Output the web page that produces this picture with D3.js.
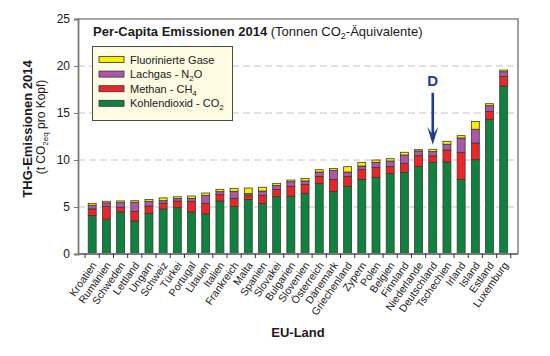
<!DOCTYPE html>
<html><head><meta charset="utf-8">
<script src="https://cdn.jsdelivr.net/npm/d3@7"></script>
<style>
body{margin:0;background:#fff;}
text{font-family:"Liberation Sans",Arial,sans-serif;fill:#1a1a1a;}
</style></head>
<body><svg id="chart" width="550" height="356"></svg>
<script>
const countries = ["Kroatien","Rumänien","Schweden","Lettland","Ungarn","Schweiz","Türkei","Portugal","Litauen","Italien","Frankreich","Malta","Spanien","Slovakei","Bulgarien","Slovenien","Österreich","Dänemark","Griechenland","Zypern","Polen","Belgien","Finnland","Niederlande","Deutschland","Tschechien","Irland","Island","Estland","Luxemburg"];
const co2 = [4.10,3.70,4.47,3.51,4.33,4.79,4.93,4.47,4.26,5.64,5.07,5.82,5.39,6.10,6.14,6.46,7.52,6.67,7.20,7.94,8.16,8.58,8.69,9.33,9.75,9.79,7.94,10.04,14.33,17.87];
const ch4 = [0.70,1.38,0.50,1.03,0.77,0.60,0.70,1.13,1.13,0.67,0.85,0.42,0.85,0.78,1.06,0.95,0.74,1.27,1.06,1.06,1.06,0.71,0.96,1.13,0.68,1.27,2.88,1.77,0.85,1.03];
const n2o = [0.39,0.36,0.50,0.96,0.50,0.28,0.28,0.32,0.85,0.32,0.75,0.18,0.46,0.42,0.49,0.36,0.46,0.96,0.46,0.36,0.53,0.60,0.88,0.50,0.46,0.61,1.52,1.46,0.60,0.49];
const fgas = [0.20,0.17,0.18,0.17,0.20,0.30,0.18,0.25,0.25,0.25,0.32,0.60,0.40,0.22,0.18,0.28,0.25,0.21,0.57,0.39,0.25,0.25,0.29,0.14,0.25,0.32,0.25,0.84,0.21,0.18];
const yTicks = [0,5,10,15,20,25];
const highlight = "Deutschland";

const keys = ["co2","ch4","n2o","fgas"];
const colors = {co2:"#0f8140", ch4:"#ec2528", n2o:"#ac57ad", fgas:"#f7ee00"};
const legendItems = [
  {key:"fgas", parts:[["Fluorinierte Gase"]]},
  {key:"n2o", parts:[["Lachgas - N"],["2","sub"],["O"]]},
  {key:"ch4", parts:[["Methan - CH"],["4","sub"]]},
  {key:"co2", parts:[["Kohlendioxid - CO"],["2","sub"]]}
];

const rows = countries.map((c,i)=>({country:c, co2:co2[i], ch4:ch4[i], n2o:n2o[i], fgas:fgas[i]}));

const svg = d3.select("#chart");
const L=78, R=518, T=19, B=254;

const x = d3.scaleBand().domain(countries).range([85.1,510.8]).paddingInner(0.44).paddingOuter(0.22);
const y = d3.scaleLinear().domain([0,25]).range([B,T]);

// grid
svg.append("g").selectAll("line").data(yTicks.filter(d=>d>0 && d<25)).join("line")
  .attr("x1",L).attr("x2",R).attr("y1",d=>y(d)).attr("y2",d=>y(d))
  .attr("stroke","#c4c4c4").attr("stroke-width",1.2).attr("stroke-dasharray","7,4");

// frame top/right
svg.append("path").attr("d",`M${L},${T}H${R}V${B}`).attr("fill","none").attr("stroke","#8a8a8a").attr("stroke-width",1.6);

// stacked bars
const stack = d3.stack().keys(keys)(rows);
svg.append("g").selectAll("g").data(stack).join("g")
  .attr("fill",d=>colors[d.key])
  .selectAll("rect").data(d=>d).join("rect")
  .attr("x",d=>x(d.data.country)).attr("width",x.bandwidth())
  .attr("y",d=>y(d[1])).attr("height",d=>y(d[0])-y(d[1]))
  .attr("stroke","#3b3b2b").attr("stroke-width",0.8);

// y axis
const yAxis = d3.axisLeft(y).tickValues(yTicks).tickSize(4).tickPadding(4);
const ya = svg.append("g").attr("transform",`translate(${L},0)`).call(yAxis);
ya.select(".domain").attr("stroke","#7a7a7a").attr("stroke-width",1.8);
ya.selectAll(".tick line").attr("stroke","#7a7a7a");
ya.selectAll("text").attr("font-size",12).attr("fill","#1a1a1a").attr("font-family","Liberation Sans, Arial, sans-serif");

// x axis
const step = x.step(), gap = step - x.bandwidth();
svg.append("line").attr("x1",L).attr("x2",R).attr("y1",B).attr("y2",B).attr("stroke","#7a7a7a").attr("stroke-width",1.8);
const tickPos = countries.map(c=>x(c)-gap/2).concat([x(countries[countries.length-1])+x.bandwidth()+gap/2]);
svg.append("g").selectAll("line").data(tickPos).join("line")
  .attr("x1",d=>d).attr("x2",d=>d).attr("y1",B).attr("y2",B+4).attr("stroke","#333").attr("stroke-width",1);
svg.append("g").selectAll("text").data(countries).join("text")
  .attr("transform",d=>`translate(${x(d)+x.bandwidth()/2+2},${B+9}) rotate(-55)`)
  .attr("text-anchor","end").attr("dy","0.35em").attr("font-size",10.5).text(d=>d);

// axis titles
svg.append("text").attr("x",(L+R)/2).attr("y",337).attr("text-anchor","middle")
  .attr("font-size",13).attr("font-weight","bold").text("EU-Land");
const yl = svg.append("text").attr("transform","translate(32,129) rotate(-90)").attr("text-anchor","middle")
  .attr("font-size",13).attr("font-weight","bold").text("THG-Emissionen 2014");
const yl2 = svg.append("text").attr("transform","translate(45,127) rotate(-90)").attr("text-anchor","middle").attr("font-size",12);
yl2.append("tspan").text("(t CO");
yl2.append("tspan").attr("font-size",8).attr("dy",3).text("2eq");
yl2.append("tspan").attr("dy",-3).text(" pro Kopf)");

// title
const tt = svg.append("text").attr("x",93).attr("y",36).attr("font-size",13);
tt.append("tspan").attr("font-weight","bold").text("Per-Capita Emissionen 2014");
tt.append("tspan").text(" (Tonnen CO");
tt.append("tspan").attr("font-size",9).attr("dy",3).text("2");
tt.append("tspan").attr("dy",-3).text("-Äquivalente)");

// legend
const lg = svg.append("g");
lg.append("rect").attr("x",92.5).attr("y",46.5).attr("width",140).attr("height",74)
  .attr("fill","#fdfbe2").attr("stroke","#4a4a4a").attr("stroke-width",1);
legendItems.forEach((it,i)=>{
  const cy = 59.5 + i*14.6;
  lg.append("rect").attr("x",99).attr("y",cy-3).attr("width",25).attr("height",6)
    .attr("fill",colors[it.key]).attr("stroke","#333").attr("stroke-width",0.8);
  const t = lg.append("text").attr("x",130).attr("y",cy+4).attr("font-size",11);
  let shifted=false;
  it.parts.forEach(p=>{
    const sp = t.append("tspan").text(p[0]);
    if(p[1]==="sub"){ sp.attr("font-size",8).attr("dy",3); shifted=true; }
    else if(shifted){ sp.attr("dy",-3); shifted=false; }
  });
});

// highlight arrow
const hx = x(highlight)+x.bandwidth()/2;
const htot = rows.find(r=>r.country===highlight);
const tip = y(htot.co2+htot.ch4+htot.n2o+htot.fgas)-4.5;
const start = tip-52;
const blue = "#1f3c92";
svg.append("line").attr("x1",hx).attr("x2",hx).attr("y1",start).attr("y2",tip-8).attr("stroke",blue).attr("stroke-width",2.6);
svg.append("path").attr("d",`M${hx-5.5},${tip-18} L${hx},${tip} L${hx+5.5},${tip-18} L${hx},${tip-10} Z`).attr("fill",blue);
svg.append("text").attr("x",hx).attr("y",start-6.5).attr("text-anchor","middle").attr("font-size",15).attr("font-weight","bold").style("fill",blue).text("D");
</script></body></html>
